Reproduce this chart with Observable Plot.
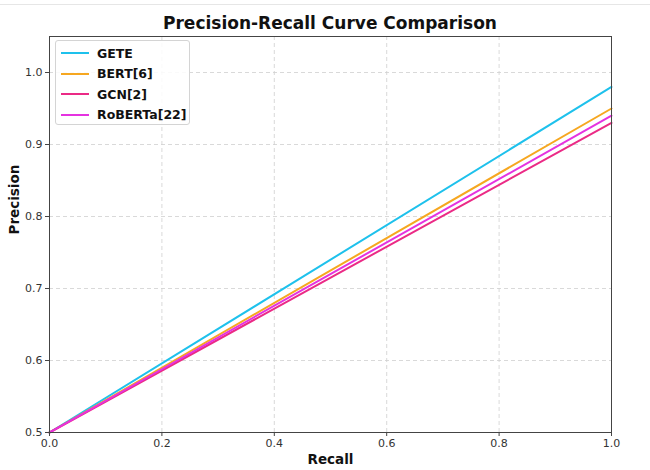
<!DOCTYPE html>
<html>
<head>
<meta charset="utf-8">
<script src="https://cdn.jsdelivr.net/npm/d3@7"></script>
<script src="https://cdn.jsdelivr.net/npm/@observablehq/plot@0.6"></script>
<style>
  body { margin: 0; background: #fff; font-family: "DejaVu Sans", sans-serif; }
  #wrap { position: relative; width: 650px; height: 470px; overflow: hidden; }
  #topline { position: absolute; left: 0; top: 4px; width: 650px; height: 1px; background: #e6e6e6; }
  #title { height: 32px; width: 650px; box-sizing: border-box; padding-left: 10px; padding-top: 13px;
           text-align: center; font-weight: bold; font-size: 17px; color: #111; line-height: 20px; }
  #legend { position: absolute; left: 55px; top: 40px; width: 135px; height: 85px; box-sizing: border-box;
            border: 1px solid #d4d4d4; border-radius: 3px; background: rgba(255,255,255,0.85); padding: 2px 0 0 0; }
  .item { height: 20.5px; display: flex; align-items: center; font-weight: bold; font-size: 12.5px; color: #111; }
  .sw { width: 28px; height: 2px; margin-left: 5px; margin-right: 8px; }
</style>
</head>
<body>
<div id="wrap">
  <div id="topline"></div>
  <div id="title">Precision-Recall Curve Comparison</div>
  <div id="chart"></div>
  <div id="legend"></div>
</div>
<script>
const series = ["GETE", "BERT[6]", "GCN[2]", "RoBERTa[22]"];
const colors = ["#1ec1ec", "#f6a720", "#eb2a86", "#e532e0"];
const recall = [0.0, 1.0];
const geteP = [0.5, 0.98];
const bertP = [0.5, 0.95];
const gcnP = [0.5, 0.93];
const robertaP = [0.5, 0.94];
const xTicks = [0.0, 0.2, 0.4, 0.6, 0.8, 1.0];
const yTicks = [0.5, 0.6, 0.7, 0.8, 0.9, 1.0];

const values = [geteP, bertP, gcnP, robertaP];
const rows = [];
series.forEach((s, i) => recall.forEach((r, j) => rows.push({series: s, recall: r, precision: values[i][j]})));

const plot = Plot.plot({
  width: 650,
  height: 438,
  marginLeft: 49,
  marginRight: 39,
  marginTop: 4,
  marginBottom: 38,
  style: { fontFamily: "DejaVu Sans, sans-serif", fontSize: "11px", color: "#333", background: "#fff", overflow: "visible" },
  x: { domain: [0, 1], ticks: xTicks, tickFormat: d3.format(".1f"), label: null },
  y: { domain: [0.5, 1.05], ticks: yTicks, tickFormat: d3.format(".1f"), label: null },
  color: { domain: series, range: colors },
  marks: [
    Plot.gridX(xTicks, { stroke: "#d0d0d0", strokeOpacity: 0.8, strokeDasharray: "4,3" }),
    Plot.gridY(yTicks, { stroke: "#d0d0d0", strokeOpacity: 0.8, strokeDasharray: "4,3" }),
    Plot.line(rows, { x: "recall", y: "precision", z: "series", stroke: "series", strokeWidth: 2 }),
    Plot.frame({ stroke: "#444", strokeWidth: 1 }),
    Plot.axisX({ ticks: xTicks, tickFormat: d3.format(".1f"), tickSize: 4, tickPadding: 3, label: null, fill: "#333", stroke: "#444" }),
    Plot.axisY({ ticks: yTicks, tickFormat: d3.format(".1f"), tickSize: 4, tickPadding: 3, label: null, fill: "#333", stroke: "#444" }),
    Plot.text(["Recall"], { frameAnchor: "bottom", dy: 31, fontWeight: "bold", fontSize: 13.5, fill: "#111" }),
    Plot.text(["Precision"], { frameAnchor: "left", dx: -35, rotate: -90, fontWeight: "bold", fontSize: 13.5, fill: "#111" })
  ]
});
document.getElementById("chart").appendChild(plot);

const legend = document.getElementById("legend");
series.forEach((s, i) => {
  const it = document.createElement("div");
  it.className = "item";
  const sw = document.createElement("span");
  sw.className = "sw";
  sw.style.background = colors[i];
  const t = document.createElement("span");
  t.textContent = s;
  it.appendChild(sw); it.appendChild(t);
  legend.appendChild(it);
});
</script>
</body>
</html>
